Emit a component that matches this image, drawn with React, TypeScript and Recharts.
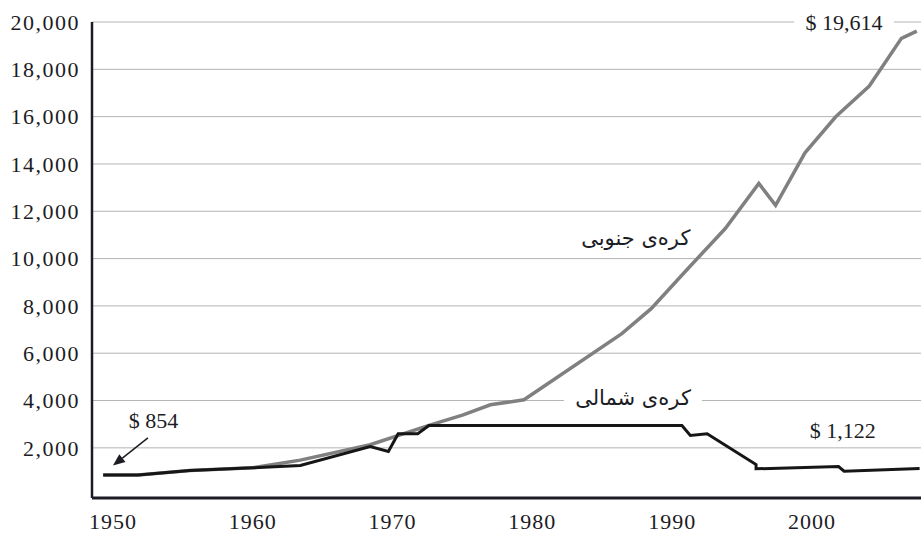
import { LineChart, Line, XAxis, YAxis, CartesianGrid, ReferenceDot, ReferenceLine } from "recharts";

// x axis years and y axis values
const yearTicks = [1950, 1960, 1970, 1980, 1990, 2000];
const valueTicks = [2000, 4000, 6000, 8000, 10000, 12000, 14000, 16000, 18000, 20000];

// northern hemisphere (black)
const northYears = [1949.3, 1951.8, 1955.5, 1960.0, 1963.4, 1968.4, 1969.7, 1970.4, 1971.8, 1972.6, 1990.7, 1991.3, 1992.5, 1996.0, 1996.0, 2001.9, 2002.3, 2007.7];
const northValues = [854, 854, 1041, 1155, 1253, 2057, 1845, 2594, 2594, 2940, 2940, 2522, 2594, 1295, 1113, 1210, 1011, 1122];

// southern hemisphere (gray)
const southYears = [1949.3, 1951.8, 1955.5, 1960.0, 1963.4, 1968.4, 1972.6, 1975.0, 1977.0, 1979.4, 1986.4, 1988.5, 1991.1, 1993.8, 1996.2, 1997.4, 1999.5, 2001.7, 2004.1, 2006.4, 2007.5];
const southValues = [854, 854, 1041, 1155, 1480, 2130, 2950, 3380, 3820, 4030, 6826, 7884, 9560, 11270, 13174, 12255, 14469, 15992, 17291, 19310, 19614];

const northData = northYears.map((year, i) => ({ year, value: northValues[i] }));
const southData = southYears.map((year, i) => ({ year, value: southValues[i] }));

const SERIF = "'Liberation Serif', 'DejaVu Serif', serif";
const SANS = "'DejaVu Sans', 'Noto Sans', sans-serif";
const INK = "#1c1c24";

const formatValue = (v: number) => v.toLocaleString("en-US");

// text label with an optional white box behind it (to break the gridline)
const tag = (text: string, font: string, size: number, boxWidth = 0) => (props: any) => {
  const { cx, cy } = props;
  return (
    <g>
      {boxWidth > 0 && <rect x={cx - boxWidth / 2} y={cy - 12} width={boxWidth} height={24} fill="#fff" />}
      <text x={cx} y={cy} textAnchor="middle" dominantBaseline="central" fontFamily={font} fontSize={size} fill={INK}>
        {text}
      </text>
    </g>
  );
};

const Arrow = (props: any) => {
  const { x1, y1, x2, y2 } = props;
  const a = Math.atan2(y2 - y1, x2 - x1);
  const len = 12;
  const w = 5;
  const bx = x2 - len * Math.cos(a);
  const by = y2 - len * Math.sin(a);
  const px = -Math.sin(a) * w;
  const py = Math.cos(a) * w;
  return (
    <g>
      <line x1={x1} y1={y1} x2={bx} y2={by} stroke={INK} strokeWidth={1.5} />
      <polygon points={`${x2},${y2} ${bx + px},${by + py} ${bx - px},${by - py}`} fill={INK} />
    </g>
  );
};

export default function App() {
  return (
    <div style={{ position: "absolute", left: 0, top: 0, background: "#fff" }}>
      <LineChart width={921} height={535} margin={{ top: 22, right: 0, left: 0, bottom: 0 }}>
        <CartesianGrid horizontal vertical={false} stroke="#b4b4b4" strokeWidth={1} />
        <XAxis
          type="number"
          dataKey="year"
          domain={[1948.5, 2007.8]}
          ticks={yearTicks}
          allowDataOverflow
          height={37}
          tickLine={false}
          tickMargin={9}
          axisLine={{ stroke: INK, strokeWidth: 3 }}
          tick={{ fill: INK, fontFamily: SERIF, fontSize: 22, letterSpacing: 1 }}
        />
        <YAxis
          type="number"
          domain={[-120, 20000]}
          ticks={valueTicks}
          allowDataOverflow
          width={92}
          tickLine={false}
          tickMargin={6}
          tickFormatter={formatValue}
          axisLine={{ stroke: INK, strokeWidth: 2.5 }}
          tick={{ fill: INK, fontFamily: SERIF, fontSize: 22, letterSpacing: 1.5 }}
        />

        {/* southern hemisphere */}
        <Line data={southData} dataKey="value" type="linear" stroke="#808080" strokeWidth={3.5} dot={false} isAnimationActive={false} />

        {/* northern hemisphere */}
        <Line data={northData} dataKey="value" type="linear" stroke="#161616" strokeWidth={3} dot={false} isAnimationActive={false} />

        <ReferenceDot x={2002.3} y={20000} r={0} ifOverflow="visible" shape={tag("$ 19,614", SERIF, 22, 100)} />
        <ReferenceDot x={1987.4} y={10860} r={0} shape={tag("کره‌ی جنوبی", SANS, 21)} />
        <ReferenceDot x={1987.2} y={4110} r={0} shape={tag("کره‌ی شمالی", SANS, 21, 138)} />
        <ReferenceDot x={2002.2} y={2730} r={0} shape={tag("$ 1,122", SERIF, 22)} />
        <ReferenceDot x={1952.9} y={3150} r={0} shape={tag("$ 854", SERIF, 22)} />
        <ReferenceLine segment={[{ x: 1952.5, y: 2420 }, { x: 1950.0, y: 1250 }]} shape={Arrow} />
      </LineChart>
    </div>
  );
}
